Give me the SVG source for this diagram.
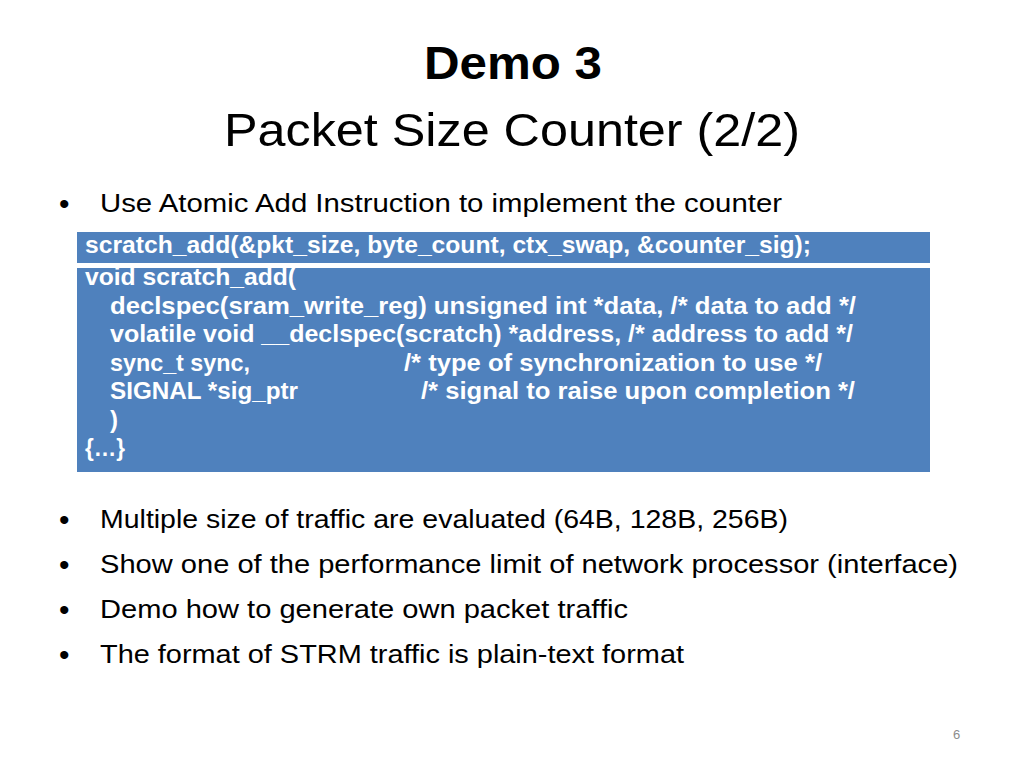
<svg xmlns="http://www.w3.org/2000/svg" width="1024" height="768" viewBox="0 0 1024 768">
<style>
.t{font-family:"Liberation Sans",Arial,sans-serif;fill:#000}
.title{font-size:46px}
.b{font-size:26px}
.b2{font-size:25px}
.dot{font-family:"Liberation Sans",Arial,sans-serif;font-size:30px;fill:#000}
.code{font-family:"Liberation Sans",Arial,sans-serif;font-size:24px;font-weight:bold;fill:#fff}
.box{fill:#4F81BD}
</style>
<rect width="1024" height="768" fill="#fff"/>
<g id="title">
<text class="t title" x="424" y="79" font-weight="bold" textLength="178" lengthAdjust="spacingAndGlyphs">Demo 3</text>
<text class="t title" x="224" y="146" textLength="576" lengthAdjust="spacingAndGlyphs">Packet Size Counter (2/2)</text>
</g>
<g id="bullet1">
<text class="dot" x="59" y="214">•</text>
<text class="t b" x="100" y="212" textLength="682" lengthAdjust="spacingAndGlyphs">Use Atomic Add Instruction to implement the counter</text>
</g>
<g id="call-box">
<rect class="box" x="77" y="232" width="853" height="31"/>
<text class="code" x="85" y="253" textLength="726" lengthAdjust="spacingAndGlyphs">scratch_add(&amp;pkt_size, byte_count, ctx_swap, &amp;counter_sig);</text>
</g>
<g id="decl-box">
<rect class="box" x="77" y="268" width="853" height="204"/>
<text class="code" x="85" y="285" textLength="211" lengthAdjust="spacingAndGlyphs">void scratch_add(</text>
<text class="code" x="110" y="314" textLength="746" lengthAdjust="spacingAndGlyphs">declspec(sram_write_reg) unsigned int *data,  /* data to add */</text>
<text class="code" x="110" y="342" textLength="743" lengthAdjust="spacingAndGlyphs">volatile void __declspec(scratch) *address, /* address to add */</text>
<text class="code" x="110" y="371" textLength="140" lengthAdjust="spacingAndGlyphs">sync_t sync,</text>
<text class="code" x="404" y="371" textLength="418" lengthAdjust="spacingAndGlyphs">/* type of synchronization to use */</text>
<text class="code" x="110" y="399" textLength="188" lengthAdjust="spacingAndGlyphs">SIGNAL *sig_ptr</text>
<text class="code" x="421" y="399" textLength="434" lengthAdjust="spacingAndGlyphs">/* signal to raise upon completion */</text>
<text class="code" x="110" y="428">)</text>
<text class="code" x="85" y="456" textLength="40" lengthAdjust="spacingAndGlyphs">{…}</text>
</g>
<g id="bullets">
<text class="dot" x="59" y="530">•</text>
<text class="t b2" x="100" y="528" textLength="688" lengthAdjust="spacingAndGlyphs">Multiple size of traffic are evaluated (64B, 128B, 256B)</text>
<text class="dot" x="59" y="575">•</text>
<text class="t b2" x="100" y="573" textLength="858" lengthAdjust="spacingAndGlyphs">Show one of the performance limit of network processor (interface)</text>
<text class="dot" x="59" y="620">•</text>
<text class="t b2" x="100" y="618" textLength="528" lengthAdjust="spacingAndGlyphs">Demo how to generate own packet traffic</text>
<text class="dot" x="59" y="665">•</text>
<text class="t b2" x="100" y="663" textLength="584" lengthAdjust="spacingAndGlyphs">The format of STRM traffic is plain-text format</text>
</g>
<text x="953" y="739" font-family="Liberation Sans,Arial,sans-serif" font-size="13" fill="#8c8c8c">6</text>
</svg>
